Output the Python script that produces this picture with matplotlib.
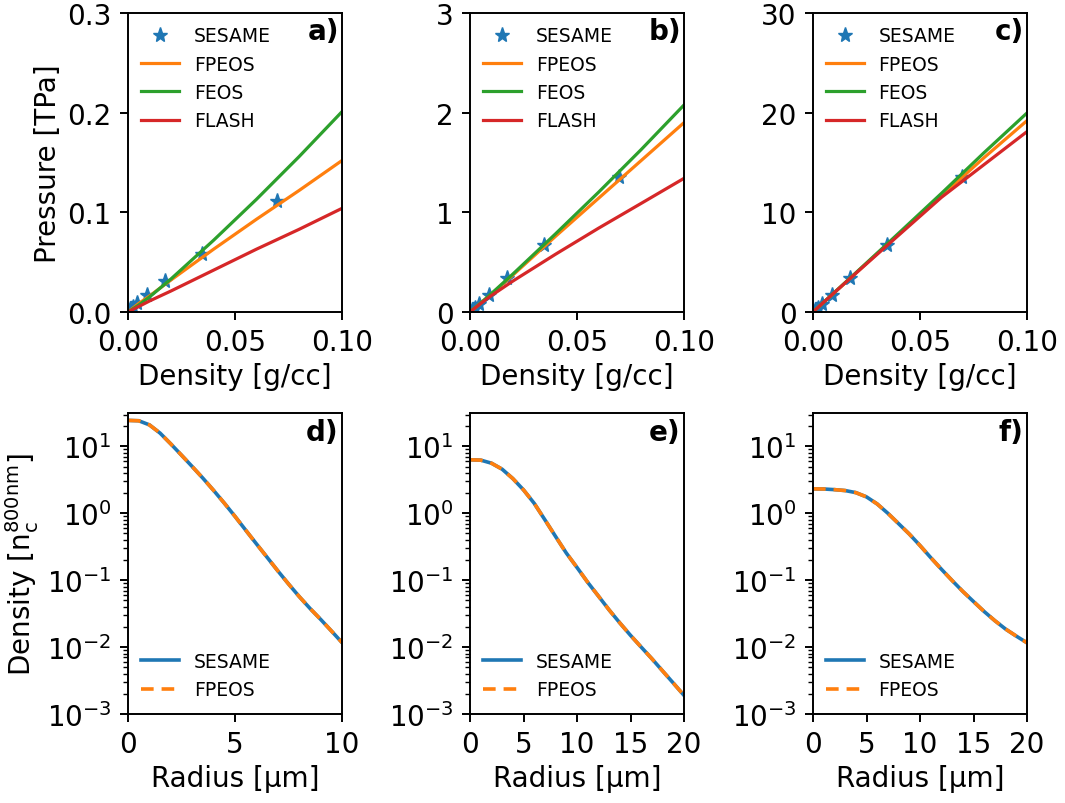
import matplotlib
matplotlib.use("Agg")
import matplotlib.pyplot as plt
import numpy as np

# ---------------- data ----------------
sesame_rho = [0.0011, 0.0022, 0.0044, 0.0087, 0.0174, 0.0348, 0.0696]
sesame_p_a = [0.003, 0.005, 0.009, 0.017, 0.031, 0.058, 0.111]
sesame_p_b = [0.022, 0.043, 0.085, 0.17, 0.34, 0.675, 1.35]
sesame_p_c = [0.21, 0.42, 0.85, 1.69, 3.38, 6.75, 13.5]

line_rho = [0.0, 0.005, 0.01, 0.02, 0.04, 0.06, 0.08, 0.1]
fpeos_a = [0.0, 0.0085, 0.016, 0.032, 0.063, 0.093, 0.122, 0.152]
feos_a = [0.0, 0.007, 0.015, 0.033, 0.072, 0.113, 0.156, 0.201]
flash_a = [0.0, 0.0055, 0.011, 0.021, 0.042, 0.063, 0.083, 0.104]

fpeos_b = [0.0, 0.09, 0.18, 0.37, 0.76, 1.14, 1.52, 1.90]
feos_b = [0.0, 0.09, 0.185, 0.38, 0.785, 1.20, 1.63, 2.077]
flash_b = [0.0, 0.085, 0.165, 0.31, 0.58, 0.84, 1.09, 1.341]

fpeos_c = [0.0, 0.98, 1.95, 3.9, 7.8, 11.65, 15.5, 19.2]
feos_c = [0.0, 0.98, 1.96, 3.93, 7.9, 11.9, 16.0, 19.97]
flash_c = [0.0, 0.98, 1.95, 3.88, 7.7, 11.5, 14.8, 18.1]

radius_d = [0, 0.5, 1, 1.5, 2, 2.5, 3, 3.5, 4, 4.5, 5, 5.5, 6, 6.5, 7, 7.5, 8, 8.5, 9, 9.5, 10]
dens_d = [24.5, 24.2, 21.0, 15.8, 10.9, 7.4, 5.0, 3.35, 2.2, 1.42, 0.9, 0.56, 0.35, 0.22,
          0.138, 0.088, 0.057, 0.038, 0.026, 0.0175, 0.0117]

radius_ef = list(range(0, 21))
dens_e = [6.31, 6.24, 5.62, 4.57, 3.31, 2.24, 1.41, 0.80, 0.45, 0.255, 0.155, 0.093, 0.058,
          0.036, 0.023, 0.015, 0.010, 0.0067, 0.0044, 0.0029, 0.0019]
dens_f = [2.32, 2.31, 2.26, 2.19, 2.04, 1.76, 1.38, 1.0, 0.70, 0.49, 0.33, 0.218, 0.146,
          0.099, 0.068, 0.048, 0.034, 0.0248, 0.0186, 0.0146, 0.0116]

top_ylims = [0.3, 3, 30]
top_yticks = [[0.0, 0.1, 0.2, 0.3], [0, 1, 2, 3], [0, 10, 20, 30]]
top_yticklabels = [["0.0", "0.1", "0.2", "0.3"], ["0", "1", "2", "3"], ["0", "10", "20", "30"]]
top_xticks = [0.0, 0.05, 0.1]
top_xticklabels = ["0.00", "0.05", "0.10"]
panel_labels_top = ["a)", "b)", "c)"]
panel_labels_bot = ["d)", "e)", "f)"]
bot_xlims = [10, 20, 20]
bot_xticks = [[0, 5, 10], [0, 5, 10, 15, 20], [0, 5, 10, 15, 20]]

# ---------------- style ----------------
plt.rcParams.update({
    "font.family": "DejaVu Sans",
    "font.size": 20,
    "axes.linewidth": 1.4,
    "xtick.major.width": 1.4,
    "ytick.major.width": 1.4,
    "xtick.major.size": 6,
    "ytick.major.size": 6,
    "xtick.major.pad": 5.8,
    "ytick.major.pad": 5.8,
    "ytick.minor.size": 3.5,
    "ytick.minor.width": 1.0,
    "xtick.labelsize": 20,
    "ytick.labelsize": 20,
})

C_BLUE = "#1f77b4"
C_ORANGE = "#ff7f0e"
C_GREEN = "#2ca02c"
C_RED = "#d62728"

fig = plt.figure(figsize=(10.65, 8.04), dpi=100)
W, H = 1065, 804
lefts = [128, 470, 813]
aw = 214

top_sesame = [sesame_p_a, sesame_p_b, sesame_p_c]
top_fpeos = [fpeos_a, fpeos_b, fpeos_c]
top_feos = [feos_a, feos_b, feos_c]
top_flash = [flash_a, flash_b, flash_c]

for i in range(3):
    ax = fig.add_axes([lefts[i] / W, (H - 313) / H, aw / W, 299 / H])
    ax.plot(sesame_rho, top_sesame[i], linestyle="none", marker="*", ms=11,
            color=C_BLUE, label="SESAME")
    ax.plot(line_rho, top_fpeos[i], color=C_ORANGE, lw=2.3, label="FPEOS")
    ax.plot(line_rho, top_feos[i], color=C_GREEN, lw=2.3, label="FEOS")
    ax.plot(line_rho, top_flash[i], color=C_RED, lw=2.3, label="FLASH")
    ax.set_xlim(0, 0.1)
    ax.set_ylim(0, top_ylims[i])
    ax.set_xticks(top_xticks)
    ax.set_xticklabels(top_xticklabels)
    ax.set_yticks(top_yticks[i])
    ax.set_yticklabels(top_yticklabels[i])
    ax.set_xlabel("Density [g/cc]", fontsize=20)
    if i == 0:
        ax.set_ylabel("Pressure [TPa]", fontsize=20)
    ax.legend(loc="upper left", frameon=False, fontsize=13.5, handlelength=2.0,
              borderaxespad=0.3, labelspacing=0.5)
    ax.text(0.985, 0.985, panel_labels_top[i], transform=ax.transAxes, ha="right",
            va="top", fontsize=20, fontweight="bold")

bot_r = [radius_d, radius_ef, radius_ef]
bot_d = [dens_d, dens_e, dens_f]
for i in range(3):
    ax = fig.add_axes([lefts[i] / W, (H - 715) / H, aw / W, 301 / H])
    ax.plot(bot_r[i], bot_d[i], color=C_BLUE, lw=2.6, label="SESAME")
    ax.plot(bot_r[i], bot_d[i], color=C_ORANGE, lw=2.6, ls=(0, (3.5, 2.2)), label="FPEOS")
    ax.set_yscale("log")
    ax.set_xlim(0, bot_xlims[i])
    ax.set_ylim(1e-3, 31.6)
    ax.set_xticks(bot_xticks[i])
    ax.set_yticks([1e-3, 1e-2, 1e-1, 1e0, 1e1])
    ax.set_xlabel("Radius [µm]", fontsize=20)
    if i == 0:
        ax.set_ylabel(r"Density [$\mathregular{n_c^{800nm}}$]", fontsize=20)
    ax.legend(loc="lower left", frameon=False, fontsize=13.5, handlelength=2.0,
              borderaxespad=0.3, labelspacing=0.5, bbox_to_anchor=(0.0, 0.005))
    ax.text(0.985, 0.985, panel_labels_bot[i], transform=ax.transAxes, ha="right",
            va="top", fontsize=20, fontweight="bold")

fig.savefig("out.png", dpi=100)
